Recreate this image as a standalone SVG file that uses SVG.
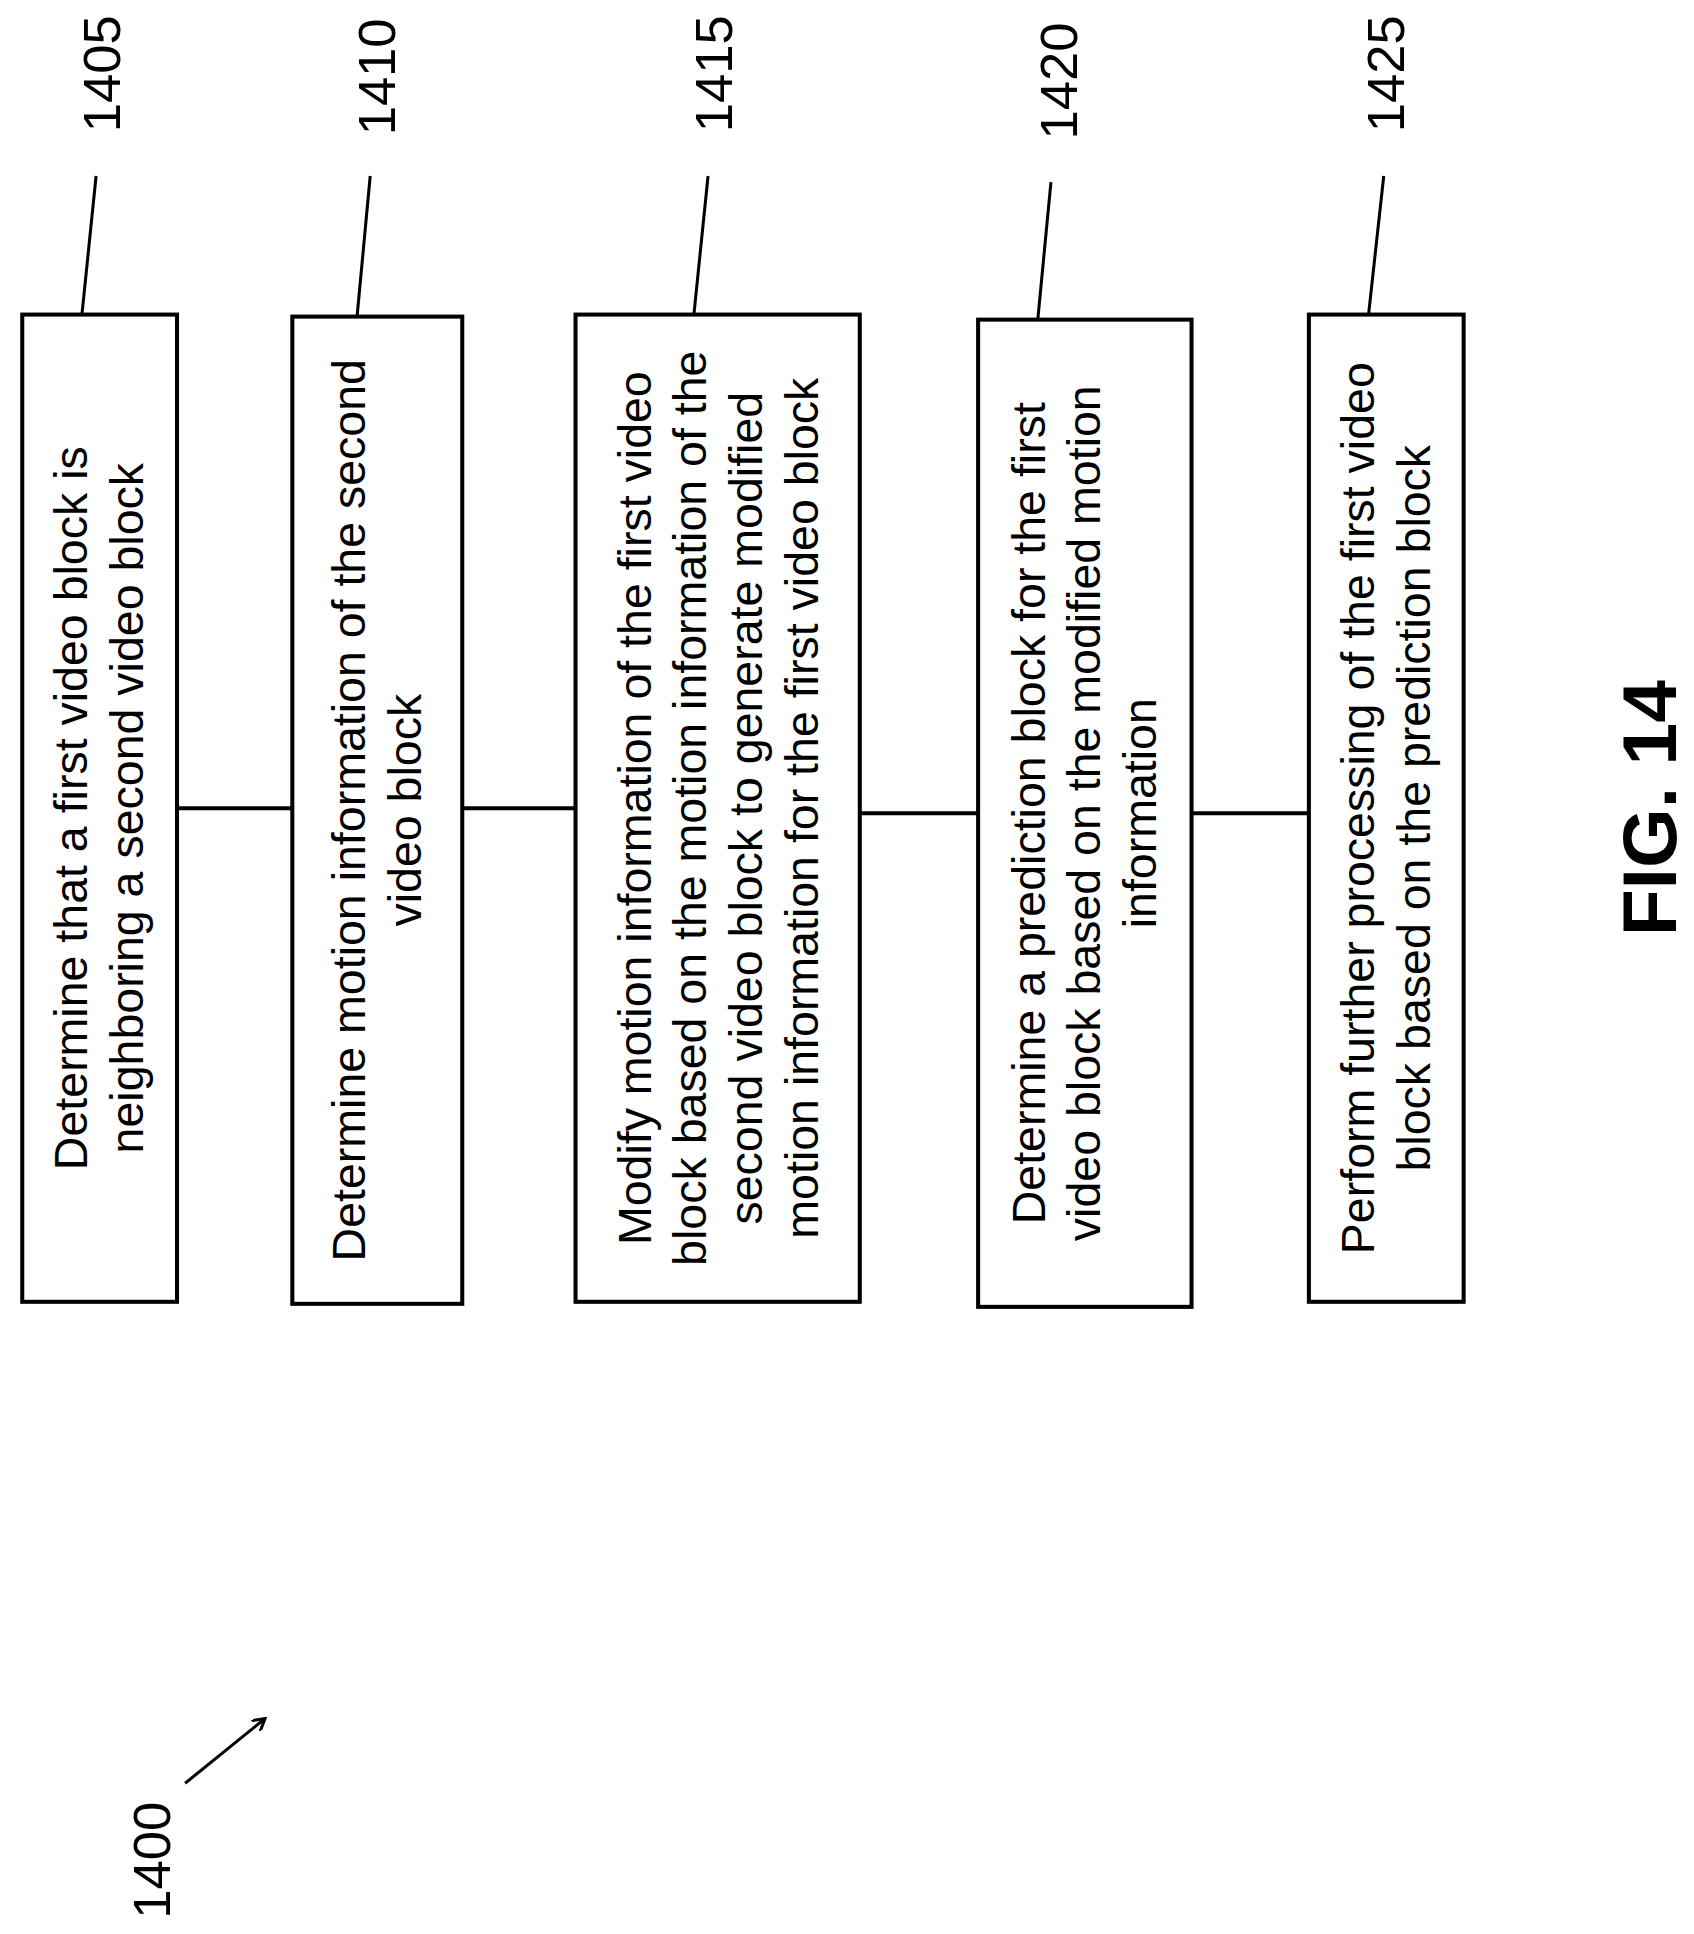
<svg xmlns="http://www.w3.org/2000/svg" width="1694" height="1934" viewBox="0 0 1694 1934">
<style>
.b{fill:#fff;stroke:#000;stroke-width:4}
.t{font-family:"Liberation Sans",Arial,sans-serif;font-size:46px;text-anchor:middle;dominant-baseline:central}
.n{font-family:"Liberation Sans",Arial,sans-serif;font-size:52px;text-anchor:middle;dominant-baseline:central}
.l{stroke:#000;stroke-width:4;fill:none}
.k{stroke:#000;stroke-width:3;fill:none}
</style>
<defs><marker id="a" markerWidth="14" markerHeight="14" refX="12" refY="7" orient="auto" markerUnits="userSpaceOnUse" viewBox="0 0 14 14"><path d="M0,0 L12,7 L0,14" fill="none" stroke="#000" stroke-width="3"/></marker></defs>
<rect width="1694" height="1934" fill="#fff"/>
<g transform="scale(1.0115)">
<g id="connectors">
<line class="l" x1="175" y1="799" x2="289" y2="799"/>
<line class="l" x1="457" y1="799" x2="569" y2="799"/>
<line class="l" x1="850" y1="804" x2="967" y2="804"/>
<line class="l" x1="1178" y1="804" x2="1294" y2="804"/>
<line class="k" x1="81" y1="311" x2="95" y2="174"/>
<line class="k" x1="353" y1="313" x2="366" y2="174"/>
<line class="k" x1="686" y1="311" x2="700" y2="174"/>
<line class="k" x1="1026" y1="316" x2="1039" y2="180"/>
<line class="k" x1="1353" y1="311" x2="1368" y2="174"/>
<line class="k" x1="183" y1="1763" x2="262" y2="1699" marker-end="url(#a)"/>
</g>
<g id="n1405"><rect class="b" x="22" y="311" width="153" height="976"/>
<g transform="translate(98,799) rotate(-90)" class="t"><text y="-27.5">Determine that a first video block is</text><text y="27.5">neighboring a second video block</text></g>
<text class="n" transform="translate(100,73) rotate(-90)">1405</text></g>
<g id="n1410"><rect class="b" x="289" y="313" width="168" height="976"/>
<g transform="translate(373,801) rotate(-90)" class="t"><text y="-27.5">Determine motion information of the second</text><text y="27.5">video block</text></g>
<text class="n" transform="translate(372,76) rotate(-90)">1410</text></g>
<g id="n1415"><rect class="b" x="569" y="311" width="281" height="976"/>
<g transform="translate(710,799) rotate(-90)" class="t"><text y="-82.5">Modify motion information of the first video</text><text y="-27.5">block based on the motion information of the</text><text y="27.5">second video block to generate modified</text><text y="82.5">motion information for the first video block</text></g>
<text class="n" transform="translate(705,73) rotate(-90)">1415</text></g>
<g id="n1420"><rect class="b" x="967" y="316" width="211" height="976"/>
<g transform="translate(1072,804) rotate(-90)" class="t"><text y="-55">Determine a prediction block for the first</text><text y="0">video block based on the modified motion</text><text y="55">information</text></g>
<text class="n" transform="translate(1046,80) rotate(-90)">1420</text></g>
<g id="n1425"><rect class="b" x="1294" y="311" width="153" height="976"/>
<g transform="translate(1370,799) rotate(-90)" class="t"><text y="-27.5">Perform further processing of the first video</text><text y="27.5">block based on the prediction block</text></g>
<text class="n" transform="translate(1370,73) rotate(-90)">1425</text></g>
<text class="n" transform="translate(150,1839) rotate(-90)">1400</text>
<text transform="translate(1630,799) rotate(-90)" style="font-family:'Liberation Sans',Arial,sans-serif;font-size:76px;font-weight:bold;text-anchor:middle;dominant-baseline:central">FIG. 14</text>
</g>
</svg>
